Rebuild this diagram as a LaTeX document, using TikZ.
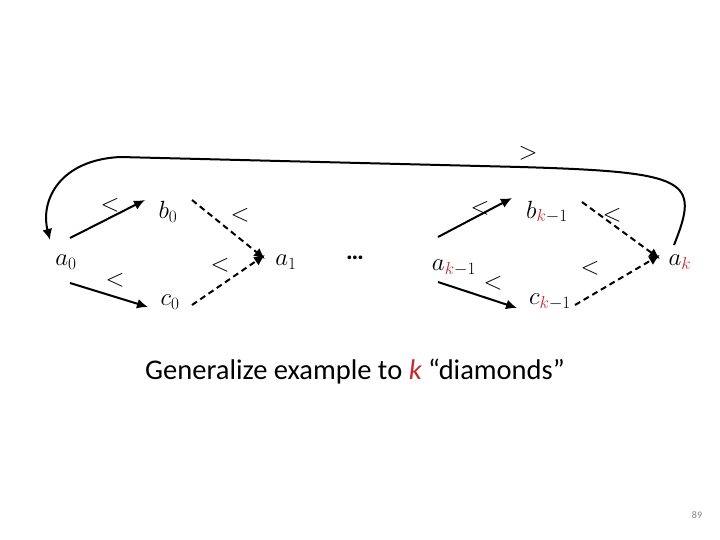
\documentclass[tikz,border=0pt]{standalone}
\usepackage{fontspec}
\setmainfont{Carlito}
\usetikzlibrary{arrows.meta}
\definecolor{kred}{RGB}{200,40,40}
\tikzstyle{vx} = [inner sep=1pt, font=\fontsize{25}{28}\selectfont]
\tikzstyle{rel} = [font=\fontsize{25}{28}\selectfont]
\tikzstyle{sol} = [draw, line width=2pt, -{Latex[length=11pt,width=10pt]}]
\tikzstyle{dsh} = [sol, dash pattern=on 6pt off 4pt]
\newcommand{\rk}{\textcolor{kred}{k}}
\begin{document}
\begin{tikzpicture}[x=1pt, y=-1pt]
	\useasboundingbox (0,0) rectangle (720,540);
	\node [vx] (a0) at (66,262) {$a_0$};
	\node [vx] (b0) at (168,212) {$b_0$};
	\node [vx] (c0) at (170,302) {$c_0$};
	\node [vx] (a1) at (286,262) {$a_1$};
	\node [font=\fontsize{25}{28}\selectfont\bfseries] (dots) at (355,258) {\dots};
	\node [vx] (ak1) at (454,268) {$a_{\rk-1}$};
	\node [vx] (bk1) at (547,212) {$b_{\rk-1}$};
	\node [vx] (ck1) at (550,302) {$c_{\rk-1}$};
	\node [vx] (ak) at (680,262) {$a_{\rk}$};
	% left diamond
	\coordinate (p1) at (70,238); \coordinate (p2) at (70,283);
	\coordinate (q1) at (265,259); \coordinate (q2) at (265,255);
	\draw [sol] (p1) -- (145,200);
	\draw [sol] (p2) -- (148,307);
	\draw [dsh] (192,200) -- (q1);
	\draw [dsh] (192,305) -- (q2);
	\node [rel] at (110,205) {$<$};
	\node [rel] at (115,280) {$<$};
	\node [rel] at (240,215) {$<$};
	\node [rel] at (220,265) {$<$};
	% right diamond
	\coordinate (r1) at (438,237); \coordinate (r2) at (438,282);
	\coordinate (s1) at (660,259); \coordinate (s2) at (660,255);
	\draw [sol] (r1) -- (512,198);
	\draw [sol] (r2) -- (517,308);
	\draw [dsh] (582,202) -- (s1);
	\draw [dsh] (575,305) -- (s2);
	\node [rel] at (480,208) {$<$};
	\node [rel] at (493,283) {$<$};
	\node [rel] at (612,215) {$<$};
	\node [rel] at (590,268) {$<$};
	% back edge
	\coordinate (t1) at (674,245); \coordinate (t2) at (50,240);
	\draw [sol] (t1) .. controls (700,180) and (690,172) .. (520,167)
		-- (120,157) .. controls (60,160) and (40,200) .. (t2);
	\node [rel] at (528,153) {$>$};
	\node [font=\fontsize{28.5}{32}\selectfont] (cap) at (355,372) {Generalize example to \textcolor{kred}{\itshape k} “diamonds”};
	\node [font=\fontsize{10}{12}\selectfont, text=gray] (pg) at (697,515) {89};
\end{tikzpicture}
\end{document}
